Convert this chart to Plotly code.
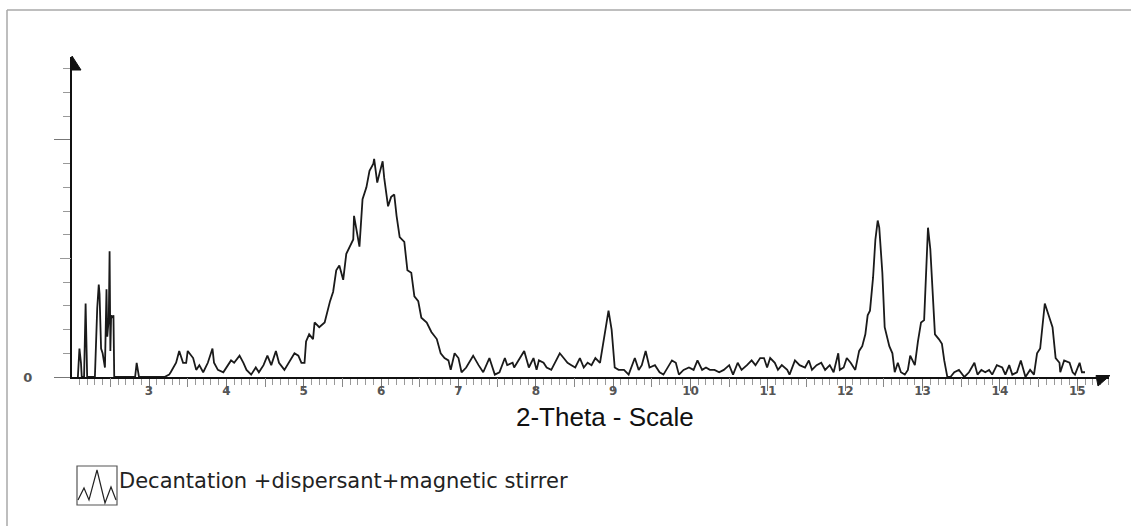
import plotly.graph_objects as go

# ---- data ----
two_theta = [
    2.08, 2.10, 2.12, 2.13, 2.16, 2.18, 2.20, 2.30, 2.33, 2.35, 2.36, 2.38, 2.40, 2.41,
    2.43, 2.45, 2.46, 2.48, 2.49, 2.50, 2.51, 2.53, 2.54, 2.55, 2.82, 2.84, 2.86, 2.87,
    3.20, 3.26, 3.28, 3.35, 3.39, 3.44, 3.48, 3.50, 3.57, 3.61, 3.65, 3.70, 3.76, 3.82,
    3.84, 3.89, 3.96, 4.00, 4.06, 4.10, 4.17, 4.22, 4.26, 4.32, 4.38, 4.42, 4.48, 4.53,
    4.58, 4.64, 4.68, 4.75, 4.81, 4.88, 4.93, 4.97, 5.01, 5.03, 5.07, 5.12, 5.14, 5.20,
    5.27, 5.32, 5.34, 5.38, 5.42, 5.46, 5.51, 5.55, 5.59, 5.64, 5.65, 5.69, 5.72, 5.76,
    5.81, 5.85, 5.90, 5.91, 5.95, 5.98, 6.02, 6.04, 6.09, 6.13, 6.17, 6.20, 6.24, 6.30,
    6.34, 6.39, 6.43, 6.48, 6.52, 6.59, 6.65, 6.72, 6.77, 6.82, 6.87, 6.90, 6.95, 7.00,
    7.04, 7.10, 7.19, 7.26, 7.32, 7.40, 7.47, 7.53, 7.60, 7.63, 7.70, 7.72, 7.78, 7.80,
    7.85, 7.91, 7.97, 8.01, 8.04, 8.10, 8.14, 8.20, 8.26, 8.31, 8.36, 8.41, 8.46, 8.51,
    8.57, 8.62, 8.67, 8.72, 8.77, 8.83, 8.89, 8.94, 8.98, 9.02, 9.07, 9.14, 9.20, 9.28,
    9.33, 9.37, 9.42, 9.47, 9.54, 9.60, 9.65, 9.76, 9.81, 9.85, 9.91, 9.98, 10.04, 10.09,
    10.15, 10.20, 10.25, 10.31, 10.37, 10.43, 10.50, 10.55, 10.61, 10.66, 10.73, 10.79,
    10.84, 10.90, 10.95, 10.99, 11.03, 11.09, 11.13, 11.18, 11.25, 11.28, 11.35, 11.41,
    11.48, 11.53, 11.57, 11.63, 11.69, 11.74, 11.80, 11.85, 11.91, 11.93, 11.98, 12.02,
    12.07, 12.13, 12.18, 12.22, 12.26, 12.29, 12.32, 12.36, 12.39, 12.42, 12.44, 12.48,
    12.51, 12.57, 12.61, 12.64, 12.68, 12.72, 12.77, 12.81, 12.84, 12.90, 12.94, 12.98,
    13.02, 13.05, 13.07, 13.10, 13.14, 13.16, 13.21, 13.25, 13.28, 13.30, 13.32, 13.36,
    13.41, 13.47, 13.54, 13.60, 13.67, 13.71, 13.76, 13.81, 13.86, 13.90, 13.96, 14.03,
    14.07, 14.12, 14.16, 14.22, 14.27, 14.33, 14.39, 14.44, 14.48, 14.52, 14.56, 14.58,
    14.64, 14.68, 14.72, 14.77, 14.78, 14.83, 14.90, 14.94, 14.97, 15.03, 15.06, 15.10,
]
counts = [
    0, 12, 6, 0, 0, 31, 0, 0, 29, 39, 35, 12, 10, 8,
    4, 37, 17, 25, 53, 11, 26, 25, 26, 0, 0, 6, 3, 0,
    0, 1, 2, 6, 11, 6, 6, 11, 8, 3, 5, 2, 6, 12,
    6, 3, 2, 4, 7, 6, 9, 6, 3, 1, 4, 2, 5, 9,
    5, 11, 6, 3, 6, 10, 9, 6, 6, 15, 18, 16, 23, 21,
    23, 30, 32, 36, 45, 47, 41, 52, 55, 58, 68, 61, 55, 75,
    80, 87, 90, 92, 82, 86, 91, 84, 72, 76, 77, 68, 59, 57,
    45, 44, 34, 32, 25, 23, 19, 16, 10, 8, 7, 3, 10, 8,
    2, 4, 9, 5, 2, 8, 1, 2, 8, 5, 6, 4, 7, 8,
    11, 4, 8, 3, 7, 6, 4, 3, 7, 10, 8, 6, 5, 4,
    8, 4, 6, 5, 8, 6, 18, 28, 20, 4, 3, 3, 1, 8,
    3, 5, 11, 4, 5, 2, 1, 7, 6, 1, 3, 4, 3, 7,
    3, 4, 3, 3, 2, 3, 5, 1, 6, 3, 5, 7,
    5, 8, 8, 4, 8, 6, 3, 5, 3, 1, 7, 5,
    4, 7, 3, 5, 6, 3, 5, 2, 10, 3, 4, 8,
    6, 3, 11, 13, 18, 26, 28, 42, 58, 66, 63, 44,
    21, 13, 10, 2, 6, 2, 1, 3, 9, 5, 15, 23,
    24, 46, 63, 54, 28, 18, 16, 14, 7, 4, 0, 0,
    2, 3, 0, 2, 6, 1, 3, 2, 3, 1, 5, 4,
    1, 5, 1, 2, 7, 0, 3, 1, 10, 12, 23, 31,
    25, 21, 8, 6, 2, 7, 6, 2, 1, 6, 2, 2,
]
x_major_ticks = [3, 4, 5, 6, 7, 8, 9, 10, 11, 12, 13, 14, 15]
x_half_ticks = [2.5, 3.5, 4.5, 5.5, 6.5, 7.5, 8.5, 9.5, 10.5, 11.5, 12.5, 13.5, 14.5]
y_major_ticks = [0, 100]
y_major_labels = ["0", ""]
y_half_ticks = [50]
x_title = "2-Theta - Scale"
legend_label = "Decantation +dispersant+magnetic stirrer"

# ---- layout geometry (pixels) ----
W, H = 1131, 526
L, R, T, B = 72, 22, 57, 149
PW, PH = W - L - R, H - T - B


def px(x):
    return (x - L) / PW


def py(y):
    return (H - B - y) / PH


fig = go.Figure()
fig.add_trace(go.Scatter(
    x=two_theta, y=counts, mode="lines",
    line=dict(color="#1a1a1a", width=1.8),
    showlegend=False, hoverinfo="x+y",
))
# helper trace so the overlay axes (half-step ticks) get drawn
fig.add_trace(go.Scatter(
    x=[two_theta[0]], y=[counts[0]], mode="none",
    xaxis="x2", yaxis="y2", showlegend=False, hoverinfo="skip",
))

xr = [2.004, 15.41]
yr = [0, 135]

fig.update_layout(
    width=W, height=H,
    margin=dict(l=L, r=R, t=T, b=B),
    paper_bgcolor="white", plot_bgcolor="white",
    xaxis=dict(
        range=xr, showgrid=False, zeroline=False,
        showline=True, linecolor="#111", linewidth=2,
        ticks="outside", tickvals=x_major_ticks, ticklen=12,
        tickwidth=1.3, tickcolor="#777",
        minor=dict(dtick=0.1, tick0=0, ticks="outside", ticklen=6,
                   tickwidth=1, tickcolor="#999"),
        tickfont=dict(family="DejaVu Sans", size=12, color="#555", weight="bold"),
        ticklabelstandoff=-10,
    ),
    xaxis2=dict(
        range=xr, overlaying="x", anchor="y", side="bottom",
        showgrid=False, zeroline=False, showline=False,
        ticks="outside", tickvals=x_half_ticks, ticklen=9,
        tickwidth=1, tickcolor="#888", showticklabels=False,
    ),
    yaxis=dict(
        range=yr, showgrid=False, zeroline=False,
        showline=True, linecolor="#111", linewidth=2,
        ticks="outside", tickvals=y_major_ticks, ticktext=y_major_labels,
        ticklen=16, tickwidth=1.3, tickcolor="#777",
        minor=dict(dtick=10, tick0=0, ticks="outside", ticklen=7,
                   tickwidth=1, tickcolor="#999"),
        tickfont=dict(family="DejaVu Sans", size=13, color="#555", weight="bold"),
        ticklabelstandoff=19,
    ),
    yaxis2=dict(
        range=yr, overlaying="y", anchor="x", side="left",
        showgrid=False, zeroline=False, showline=False,
        ticks="outside", tickvals=y_half_ticks, ticklen=11,
        tickwidth=1, tickcolor="#999", showticklabels=False,
    ),
)

shapes = []
# outer frame (top and left edges)
shapes.append(dict(type="line", xref="paper", yref="paper",
                   x0=px(7), y0=py(10), x1=px(W), y1=py(10),
                   line=dict(color="#a8a8a8", width=1.5)))
shapes.append(dict(type="line", xref="paper", yref="paper",
                   x0=px(7), y0=py(10), x1=px(7), y1=py(H),
                   line=dict(color="#a8a8a8", width=1.5)))
# axis arrowheads
shapes.append(dict(type="path", xref="paper", yref="paper",
                   path=f"M {px(1096)} {py(375.5)} L {px(1110)} {py(375.5)} L {px(1098)} {py(386)} Z",
                   fillcolor="#111", line=dict(color="#111", width=1)))
shapes.append(dict(type="path", xref="paper", yref="paper",
                   path=f"M {px(72)} {py(56)} L {px(81)} {py(70)} L {px(72)} {py(70)} Z",
                   fillcolor="#111", line=dict(color="#111", width=1)))
# legend symbol box + zigzag
shapes.append(dict(type="rect", xref="paper", yref="paper",
                   x0=px(77), y0=py(466), x1=px(117), y1=py(505),
                   line=dict(color="#555", width=1.2)))
zig = [(78, 500), (84, 488), (89, 500), (97, 470), (105, 503), (111, 487), (116, 500)]
zpath = "M " + " L ".join(f"{px(a)} {py(b)}" for a, b in zig)
shapes.append(dict(type="path", xref="paper", yref="paper", path=zpath,
                   line=dict(color="#222", width=1.2)))
fig.update_layout(shapes=shapes)

fig.add_annotation(text=x_title, xref="paper", yref="paper",
                   x=px(605), y=py(417), xanchor="center", yanchor="middle",
                   showarrow=False,
                   font=dict(family="Liberation Sans", size=26, color="#111"))
fig.add_annotation(text=legend_label, xref="paper", yref="paper",
                   x=px(117), y=py(481), xanchor="left", yanchor="middle",
                   showarrow=False,
                   font=dict(family="DejaVu Sans", size=21, color="#222"))

fig.write_html("out.html")
